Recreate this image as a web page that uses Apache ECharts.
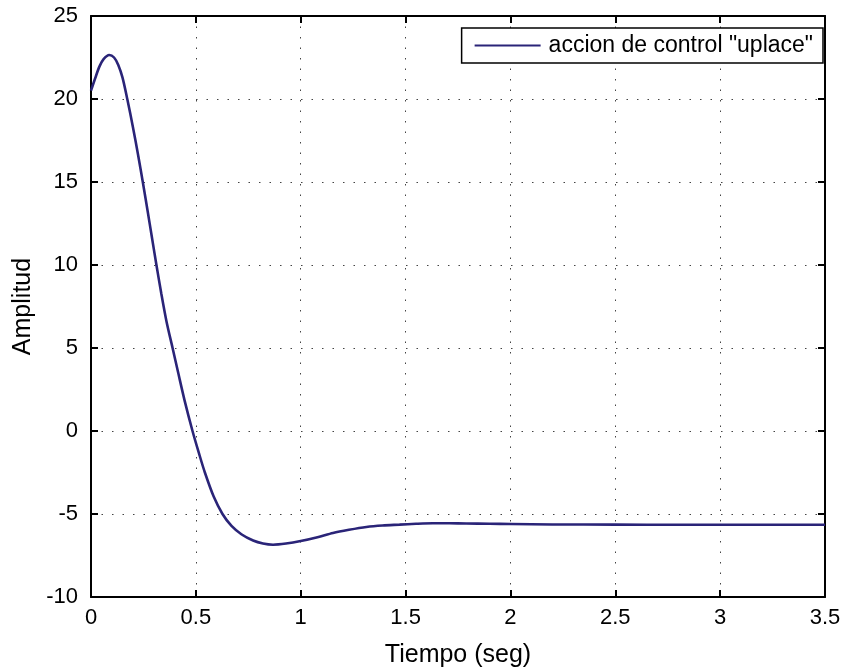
<!DOCTYPE html>
<html>
<head>
<meta charset="utf-8">
<script src="https://cdn.jsdelivr.net/npm/echarts@6/dist/echarts.min.js"></script>
<style>
  html, body { margin: 0; padding: 0; background: #fff; }
  #chart { width: 845px; height: 669px; }
</style>
</head>
<body>
<div id="chart"></div>
<script>
// tiempo (seg) y amplitud
var tiempo = [0, 0.02, 0.04, 0.06, 0.087, 0.11, 0.13, 0.15, 0.173, 0.2, 0.225, 0.247, 0.27, 0.29, 0.312,
  0.335, 0.36, 0.389, 0.415, 0.447, 0.484, 0.515, 0.543, 0.585, 0.627, 0.67, 0.717, 0.773, 0.82, 0.868,
  0.93, 1.0, 1.08, 1.154, 1.23, 1.313, 1.39, 1.471, 1.55, 1.63, 1.71, 1.789, 1.9, 2.0, 2.2, 2.5, 2.8, 3.1, 3.5];
var amplitud = [20.5, 21.25, 21.95, 22.4, 22.65, 22.5, 22.05, 21.3, 20.0, 18.3, 16.6, 15.0, 13.25, 11.7, 10.0,
  8.3, 6.6, 5.0, 3.55, 1.8, 0, -1.35, -2.5, -3.95, -5.0, -5.72, -6.22, -6.6, -6.78, -6.85,
  -6.78, -6.63, -6.4, -6.14, -5.95, -5.78, -5.69, -5.64, -5.59, -5.56, -5.56, -5.57, -5.59, -5.6, -5.63,
  -5.64, -5.65, -5.65, -5.65];
var xTicks = [0, 0.5, 1, 1.5, 2, 2.5, 3, 3.5];
var yTicks = [-10, -5, 0, 5, 10, 15, 20, 25];
var serieNombre = 'accion de control "uplace"';

var puntos = tiempo.map(function (t, i) { return [t, amplitud[i]]; });

var fuente = 'Liberation Sans, Arial, sans-serif';
var punteado = { color: '#444', width: 1, type: [1.5, 9] };
var borde = { color: '#000', width: 2 };

var chart = echarts.init(document.getElementById('chart'));
chart.setOption({
  animation: false,
  grid: { left: 91, right: 20, top: 16, bottom: 72, outerBoundsMode: 'none', containLabel: false },
  legend: {
    data: [serieNombre],
    right: 22, top: 28,
    orient: 'vertical',
    backgroundColor: '#fff',
    borderColor: '#000', borderWidth: 1.5, borderRadius: 0,
    padding: [6, 10, 6, 13],
    itemWidth: 66, itemHeight: 2, itemGap: 0,
    icon: 'rect',
    textStyle: { fontFamily: fuente, fontSize: 23, color: '#000', padding: [0, 0, 0, 3] }
  },
  xAxis: [{
    type: 'value', min: 0, max: 3.5, interval: 0.5,
    name: 'Tiempo (seg)', nameLocation: 'middle', nameGap: 46,
    nameTextStyle: { fontFamily: fuente, fontSize: 25, color: '#000' },
    axisLine: { onZero: false, lineStyle: borde },
    axisTick: { inside: true, length: 7, lineStyle: borde },
    axisLabel: {
      margin: 10, fontFamily: fuente, fontSize: 22, color: '#000',
      formatter: function (v) { return xTicks.indexOf(v) >= 0 ? String(v) : ''; }
    },
    splitLine: { show: true, lineStyle: punteado }
  }, {
    type: 'value', position: 'top', min: 0, max: 3.5, interval: 0.5,
    axisLine: { show: true, onZero: false, lineStyle: borde },
    axisTick: { inside: true, length: 7, lineStyle: borde },
    axisLabel: { show: false }, splitLine: { show: false }
  }],
  yAxis: [{
    type: 'value', min: -10, max: 25, interval: 5,
    name: 'Amplitud', nameLocation: 'middle', nameGap: 54,
    nameTextStyle: { fontFamily: fuente, fontSize: 25, color: '#000' },
    axisLine: { show: true, onZero: false, lineStyle: borde },
    axisTick: { show: true, inside: true, length: 7, lineStyle: borde },
    axisLabel: {
      margin: 13, fontFamily: fuente, fontSize: 22, color: '#000',
      formatter: function (v) { return yTicks.indexOf(v) >= 0 ? String(v) : ''; }
    },
    splitLine: { show: true, lineStyle: punteado }
  }, {
    type: 'value', position: 'right', min: -10, max: 25, interval: 5,
    axisLine: { show: true, onZero: false, lineStyle: borde },
    axisTick: { show: true, inside: true, length: 7, lineStyle: borde },
    axisLabel: { show: false }, splitLine: { show: false }
  }],
  series: [{
    name: serieNombre,
    type: 'line',
    data: puntos,
    smooth: 0.3,
    showSymbol: false,
    color: '#2a2478',
    lineStyle: { color: '#2a2478', width: 2.6 }
  }]
});
</script>
</body>
</html>
